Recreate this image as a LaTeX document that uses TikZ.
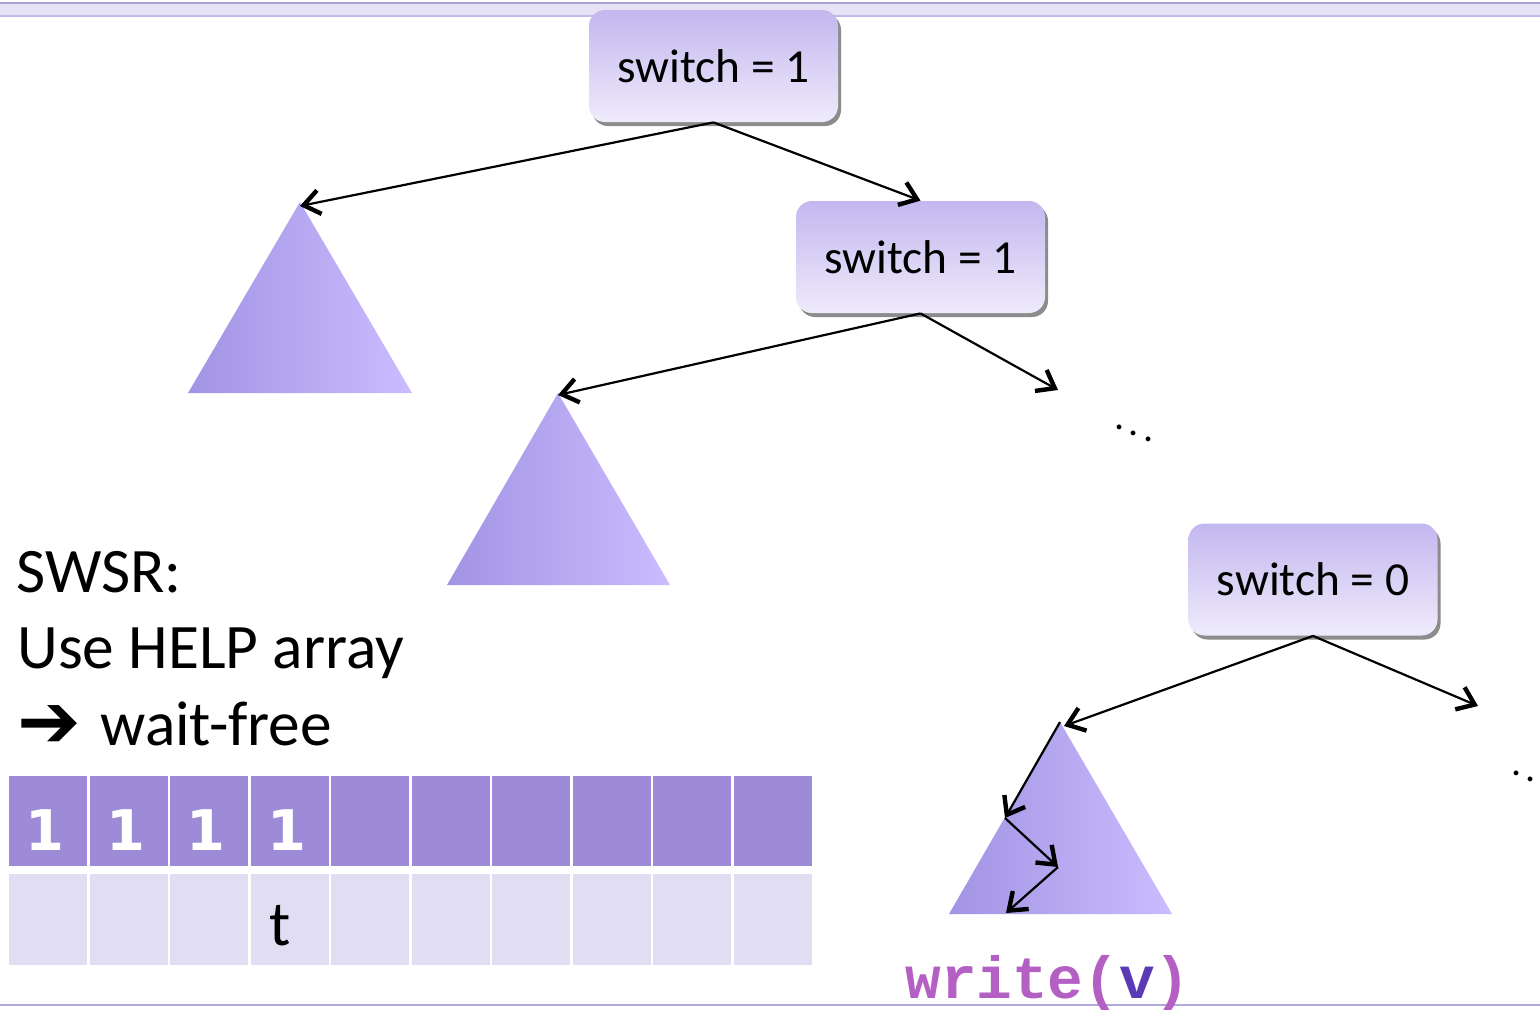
\documentclass[tikz,border=0pt]{standalone}
\usepackage{fontspec}
\setmainfont{Carlito}
\newfontfamily\symfont{DejaVu Sans}
\newfontfamily\codefont{Liberation Mono}
\usetikzlibrary{arrows.meta,shadows}
\definecolor{boxtop}{HTML}{C3B7EF}
\definecolor{boxbot}{HTML}{EFEBFB}
\definecolor{trileft}{HTML}{A294E4}
\definecolor{triright}{HTML}{CBBBFF}
\definecolor{celldark}{HTML}{9E8BD8}
\definecolor{celllight}{HTML}{E1DDF2}
\definecolor{bandfill}{HTML}{E7E3F6}
\definecolor{bandline}{HTML}{ABA1DA}
\definecolor{bandline2}{HTML}{C3B8EA}
\definecolor{bottomline}{HTML}{B3A8DE}
\definecolor{codepink}{HTML}{B35FC4}
\definecolor{codeblue}{HTML}{5B3AB5}
\tikzset{
  switchbox/.style={draw=none, rounded corners=8pt, top color=boxtop, bottom color=boxbot,
    minimum width=124.5pt, minimum height=56pt, inner sep=0pt,
    font=\fontsize{23.7}{28}\selectfont,
    drop shadow={shadow xshift=1.5pt, shadow yshift=-2pt, fill=black, opacity=0.45}},
  arr/.style={line width=1.1pt, -{Straight Barb[length=8pt, width=12pt, line width=2.2pt]}},
  bigtext/.style={anchor=base west, inner sep=0pt, font=\fontsize{31.7}{38}\selectfont},
  topcell/.style={fill=celldark, draw=none},
  botcell/.style={fill=celllight, draw=none},
  digit/.style={text=white, inner sep=0pt, anchor=base, font=\symfont\bfseries\fontsize{28}{32}\selectfont},
  dots/.style={inner sep=0pt, font=\fontsize{20}{24}\selectfont}
}
\begin{document}
\begin{tikzpicture}[x=0.5pt,y=-0.5pt]
\clip (0,0) rectangle (1540,1009);
\useasboundingbox (0,0) rectangle (1540,1009);
\fill[white] (0,0) rectangle (1540,1009);
% top band
\fill[bandfill] (0,3) rectangle (1540,16);
\draw[bandline, line width=1pt] (0,3) -- (1540,3);
\draw[bandline2, line width=1pt] (0,16) -- (1540,16);
% bottom line
\draw[bottomline, line width=1pt] (0,1005) -- (1540,1005);

% triangles
\coordinate (t1a) at (300,202);
\coordinate (t2a) at (558,393);
\coordinate (t3a) at (1060,722);
\shade[left color=trileft, right color=triright] (t1a) -- (412,393) -- (188,393) -- cycle;
\shade[left color=trileft, right color=triright] (t2a) -- (670,585) -- (447,585) -- cycle;
\shade[left color=trileft, right color=triright] (t3a) -- (1172,914) -- (949,914) -- cycle;

% boxes
\node[switchbox] (b1) at (713.5,66) {switch = 1};
\node[switchbox] (b2) at (920.5,257) {switch = 1};
\node[switchbox] (b3) at (1313,579.5) {switch = 0};

% free ends
\coordinate (e2) at (1058,390);
\coordinate (e3) at (1478,706);
\coordinate (p1) at (1005,818);
\coordinate (p2) at (1058,867);
\coordinate (p3) at (1006,913);

% connectors
\draw[arr] (b1.south) -- ([yshift=-2]t1a);
\draw[arr] (b1.south) -- (b2.north);
\draw[arr] (b2.south) -- ([yshift=-1]t2a);
\draw[arr] (b2.south) -- (e2);
\draw[arr] (b3.south) -- ([xshift=2,yshift=-2]t3a);
\draw[arr] (b3.south) -- (e3);
\draw[arr] (t3a) -- (p1);
\draw[arr] (p1) -- (p2);
\draw[arr] (p2) -- (p3);

% ellipses
\node[dots] (d1) at (1134,427) {$\ddots$};
\node[dots] (d2) at (1531,773) {$\ddots$};

% text
\node[bigtext] (l1) at (16,592) {SWSR:};
\node[bigtext] (l2) at (17,668) {Use HELP array};
\node[bigtext, font=\symfont\fontsize{38}{44}\selectfont] (l3a) at (17,747) {➔};
\node[bigtext] (l3) at (100,745) {wait-free};

% array
\foreach \i in {0,...,9}{
  \fill[topcell] ({9+80.55*\i},776) rectangle ({87+80.55*\i},866);
  \fill[botcell] ({9+80.55*\i},874) rectangle ({87+80.55*\i},965);
}
\foreach \i/\n in {0/c1,1/c2,2/c3,3/c4}{
  \node[digit] (\n) at ({45+80.55*\i},850) {1};
}
\node[bigtext, anchor=base] (tt) at (280,945) {t};

% write(v)
\node[anchor=base west, inner sep=0pt, font=\codefont\bfseries\fontsize{29.7}{34}\selectfont] (wv) at (905,998)
  {\textcolor{codepink}{write(}\textcolor{codeblue}{v}\textcolor{codepink}{)}};
\end{tikzpicture}
\end{document}
